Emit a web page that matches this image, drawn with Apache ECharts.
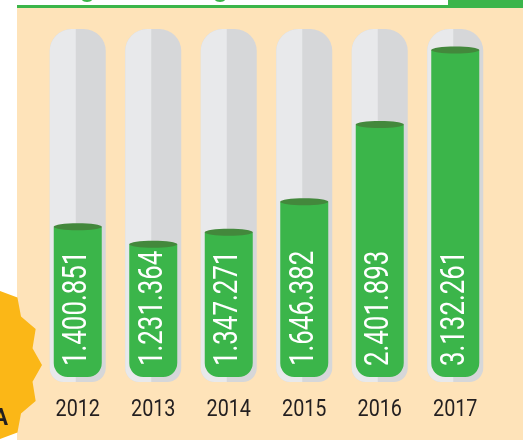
<!DOCTYPE html>
<html>
<head>
<meta charset="utf-8">
<script src="https://cdn.jsdelivr.net/npm/echarts@6/dist/echarts.min.js"></script>
<style>
  html, body { margin: 0; padding: 0; background: #ffffff; }
  #chart { width: 523px; height: 440px; }
</style>
</head>
<body>
<div id="chart"></div>
<script>
var years = ['2012', '2013', '2014', '2015', '2016', '2017'];
var visitors = [1400851, 1231364, 1347271, 1646382, 2401893, 3132261];
var tubeMax = 3337000;

function dotted(v) {
    return String(v).replace(/\B(?=(\d{3})+(?!\d))/g, '.');
}

// starburst badge on the left edge (decoration only)
var star = [];
for (var k = 0; k < 36; k++) {
    var ang = k * Math.PI / 18;
    var r = k % 2 ? 97 : 105;
    star.push([-63 + r * Math.cos(ang), 365 + r * Math.sin(ang)]);
}

var chart = echarts.init(document.getElementById('chart'), null, {renderer: 'canvas'});

var option = {
    animation: false,
    backgroundColor: '#ffffff',
    graphic: [
        {type: 'rect', shape: {x: 17, y: 8, width: 506, height: 432}, style: {fill: '#fee3b9'}},
        {type: 'rect', shape: {x: 17, y: 5, width: 432, height: 3}, style: {fill: '#3bb54a'}},
        {type: 'rect', shape: {x: 448, y: 0, width: 75, height: 8}, style: {fill: '#3bb54a'}},
        {type: 'ellipse', shape: {cx: 87, cy: -2, rx: 6, ry: 4}, style: {fill: '#3bb54a'}},
        {type: 'ellipse', shape: {cx: 220, cy: -2, rx: 6, ry: 4}, style: {fill: '#3bb54a'}},
        {type: 'polygon', shape: {points: star}, style: {fill: '#fbb717'}},
        {type: 'text', x: 8, y: 419, scaleX: 0.9, style: {text: 'A', fill: '#231f20', font: 'bold 24px Roboto, sans-serif', align: 'right', verticalAlign: 'middle'}}
    ],
    grid: {left: 40, right: 30, top: 29, bottom: 70},
    xAxis: {
        type: 'category',
        data: years,
        axisLine: {show: false},
        axisTick: {show: false},
        axisLabel: {show: false}
    },
    yAxis: {type: 'value', min: 0, max: tubeMax, show: false},
    series: [{
        type: 'custom',
        data: visitors.map(function (v, i) { return [i, v]; }),
        renderItem: function (params, api) {
            var idx = api.value(0);
            var top = api.coord([idx, tubeMax]);
            var zero = api.coord([idx, 0]);
            var lvl = api.coord([idx, api.value(1)]);
            var cx = top[0];
            return {
                type: 'group',
                children: [
                    {type: 'rect', shape: {x: cx - 28, y: top[1], width: 56, height: zero[1] + 12 - top[1], r: [22, 22, 14, 14]},
                        style: {fill: '#d6d7d9'}},
                    {type: 'rect', shape: {x: cx - 28, y: top[1], width: 26, height: zero[1] + 12 - top[1], r: [22, 0, 0, 14]},
                        style: {fill: '#e8e9eb'}},
                    {type: 'rect', shape: {x: cx - 24, y: lvl[1], width: 48, height: zero[1] + 7 - lvl[1], r: [0, 0, 14, 14]},
                        style: {fill: '#3bb54a'}},
                    {type: 'ellipse', shape: {cx: cx, cy: lvl[1], rx: 24, ry: 3.5},
                        style: {fill: '#43883c'}},
                    {type: 'text', x: cx, y: 366, rotation: Math.PI / 2, scaleX: 0.76,
                        style: {text: dotted(api.value(1)), x: 0, y: 0, fill: '#ffffff', align: 'left', verticalAlign: 'middle',
                            font: '34px Roboto, sans-serif'}},
                    {type: 'text', x: cx, y: 410, scaleX: 0.86,
                        style: {text: years[idx], x: 0, y: 0, fill: '#231f20', align: 'center', verticalAlign: 'middle',
                            font: '23px Roboto, sans-serif'}}
                ]
            };
        }
    }]
};

chart.setOption(option);
</script>
</body>
</html>
